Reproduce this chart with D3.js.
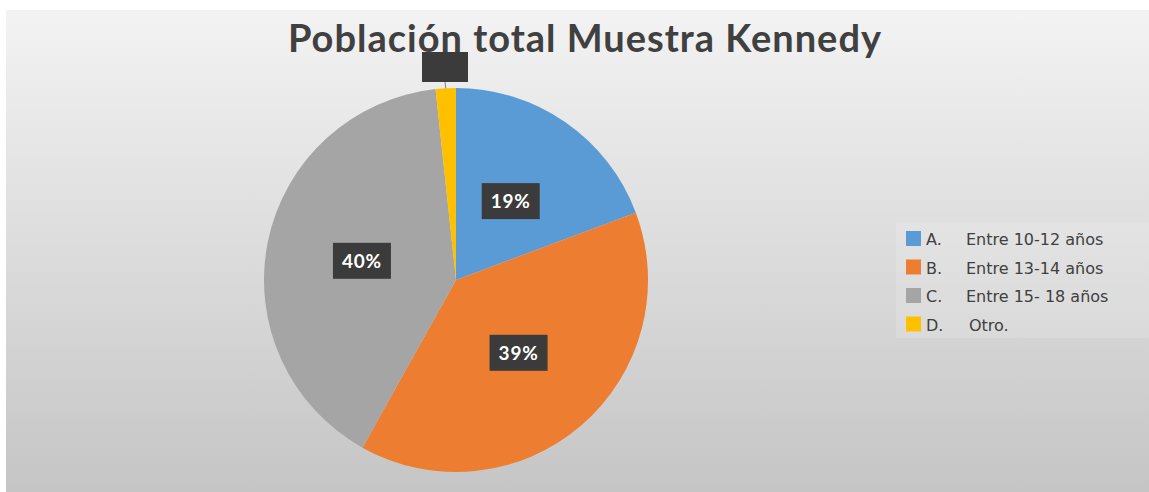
<!DOCTYPE html>
<html>
<head>
<meta charset="utf-8">
<script src="https://cdn.jsdelivr.net/npm/d3@7"></script>
<style>
  body { margin: 0; background: #ffffff; }
  svg { display: block; }
</style>
</head>
<body>
<svg id="chart"></svg>
<script>
var width = 1149, height = 492
var title = "Población total Muestra Kennedy"
var letters = ["A.", "B.", "C.", "D."]
var categories = ["Entre 10-12 años", "Entre 13-14 años", "Entre 15- 18 años", "Otro."]
var values = [19.3, 38.8, 40.2, 1.7]
var labels = ["19%", "39%", "40%", ""]
var colors = ["#5B9BD5", "#ED7D31", "#A5A5A5", "#FFC000"]

var svg = d3.select("#chart").attr("width", width).attr("height", height)

// background gradient of the chart area
var grad = svg.append("defs").append("linearGradient")
    .attr("id", "bg").attr("x1", 0).attr("y1", 0).attr("x2", 0).attr("y2", 1)
grad.append("stop").attr("offset", "0%").attr("stop-color", "#f3f3f3")
grad.append("stop").attr("offset", "100%").attr("stop-color", "#c5c5c5")

svg.append("rect").attr("x", 6).attr("y", 10).attr("width", width - 6).attr("height", height - 10)
    .style("fill", "url(#bg)")

// pie
var cx = 456, cy = 280, radius = 192
var pie = d3.pie().sort(null).value(d => d)
var arcs = pie(values)
var arc = d3.arc().innerRadius(0).outerRadius(radius)
var labelArc = d3.arc().innerRadius(radius * 0.5).outerRadius(radius * 0.5)

var g = svg.append("g").attr("transform", "translate(" + cx + "," + cy + ")")

g.selectAll("path")
    .data(arcs)
    .enter()
    .append("path")
    .attr("d", arc)
    .style("fill", (d, i) => colors[i])

// title (drawn before labels so the small label box covers it)
svg.append("text")
    .attr("x", 585).attr("y", 52)
    .attr("text-anchor", "middle")
    .style("font-family", "Lato, 'Open Sans', sans-serif")
    .style("font-weight", "bold")
    .style("font-size", "38px")
    .style("letter-spacing", "1px")
    .style("fill", "#404040")
    .text(title)

// data labels
arcs.forEach((d, i) => {
    var c = labelArc.centroid(d)
    var bw = 58, bh = 36
    if (labels[i] == "") {
        // tiny slice: label pulled outside with a leader line
        var a = (d.startAngle + d.endAngle) / 2
        var edge = [Math.sin(a) * radius, -Math.cos(a) * radius]
        c = [-11, -213]
        g.append("line")
            .attr("x1", c[0]).attr("y1", c[1] + 15)
            .attr("x2", edge[0]).attr("y2", edge[1])
            .style("stroke", "#7f7f7f").style("stroke-width", 1)
        bw = 46; bh = 30
    }
    g.append("rect")
        .attr("x", c[0] - bw / 2).attr("y", c[1] - bh / 2)
        .attr("width", bw).attr("height", bh)
        .style("fill", "#3b3b3b")
    g.append("text")
        .attr("x", c[0]).attr("y", c[1])
        .attr("text-anchor", "middle")
        .attr("dy", "0.36em")
        .style("font-family", "Lato, 'Open Sans', sans-serif")
        .style("font-weight", "bold")
        .style("font-size", "19px")
        .style("letter-spacing", "0.8px")
        .style("fill", "#ffffff")
        .text(labels[i])
})

// legend
svg.append("rect").attr("x", 896).attr("y", 222).attr("width", width - 896).attr("height", 116)
    .style("fill", "#ffffff").style("opacity", 0.15)

var legend = svg.append("g").attr("transform", "translate(906,231)")
var row = 28.5
categories.forEach((c, i) => {
    legend.append("rect")
        .attr("x", 0).attr("y", i * row)
        .attr("width", 15).attr("height", 15)
        .style("fill", colors[i])
    var t = legend.append("text")
        .attr("y", i * row + 14)
        .style("font-family", "'DejaVu Sans', sans-serif")
        .style("font-size", "16px")
        .style("fill", "#404040")
    t.append("tspan").attr("x", 20).text(letters[i])
    t.append("tspan").attr("x", i == 3 ? 63 : 60).text(c)
})
</script>
</body>
</html>
